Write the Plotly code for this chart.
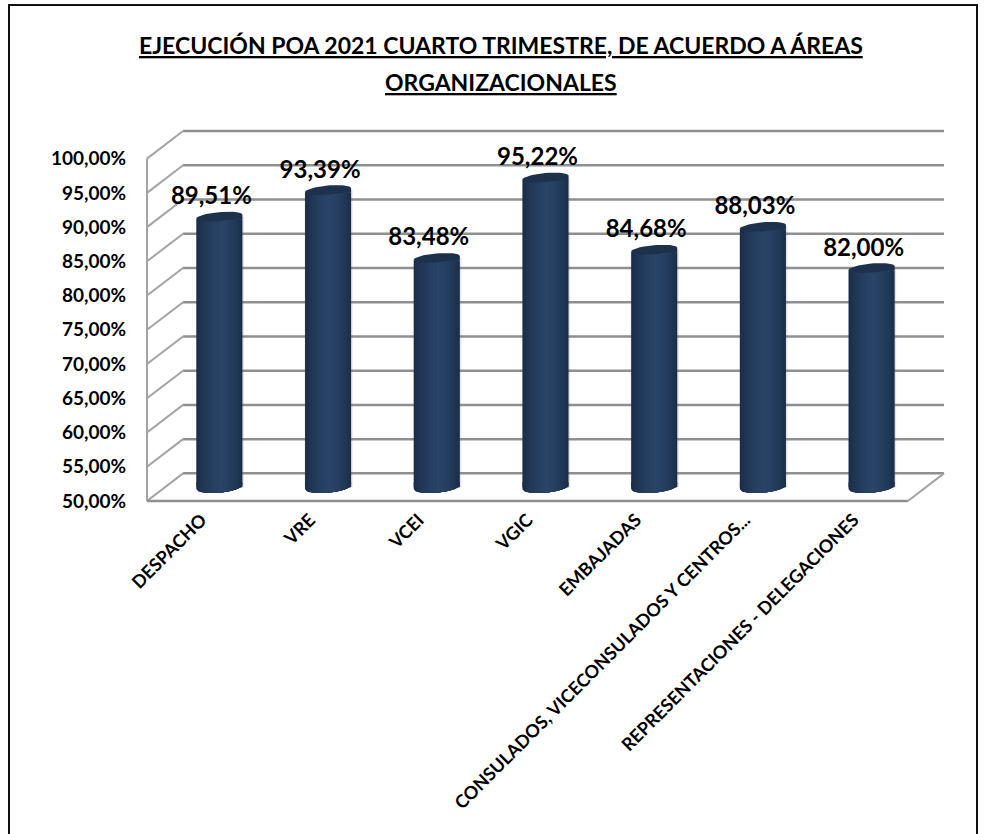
import numpy as np
import plotly.graph_objects as go

categories = [
    "DESPACHO",
    "VRE",
    "VCEI",
    "VGIC",
    "EMBAJADAS",
    "CONSULADOS, VICECONSULADOS Y CENTROS...",
    "REPRESENTACIONES - DELEGACIONES",
]
values = [89.51, 93.39, 83.48, 95.22, 84.68, 88.03, 82.00]
value_labels = ["89,51%", "93,39%", "83,48%", "95,22%", "84,68%", "88,03%", "82,00%"]
y_ticks = [50, 55, 60, 65, 70, 75, 80, 85, 90, 95, 100]
y_tick_labels = ["50,00%", "55,00%", "60,00%", "65,00%", "70,00%", "75,00%",
                 "80,00%", "85,00%", "90,00%", "95,00%", "100,00%"]
title_lines = ["EJECUCIÓN POA 2021 CUARTO TRIMESTRE, DE ACUERDO A ÁREAS", "ORGANIZACIONALES"]

FONT = "Lato"
WIDTH, HEIGHT = 987, 834

# pixel geometry of the fake 3d box
FRONT_LEFT, FRONT_RIGHT = 147, 907
FRONT_BOTTOM, FRONT_TOP = 501, 160
BACK_RIGHT, BACK_TOP = 944, 131
PAD = 4

PX_X = (FRONT_RIGHT - FRONT_LEFT) / len(categories)
PX_Y = (FRONT_BOTTOM - FRONT_TOP) / (y_ticks[-1] - y_ticks[0])

# depth of the box, in axis units
DEPTH_X = 36 / PX_X
DEPTH_Y = 27.5 / PX_Y
x_start = -0.5

margin = dict(
    l=FRONT_LEFT - PAD,
    r=WIDTH - BACK_RIGHT - PAD,
    t=BACK_TOP - PAD,
    b=HEIGHT - FRONT_BOTTOM - PAD,
)


def paper_x(px):
    return (px - margin["l"]) / (WIDTH - margin["l"] - margin["r"])


def paper_y(px):
    return 1 - (px - margin["t"]) / (HEIGHT - margin["t"] - margin["b"])


# cylinder look
BAR_PX = 46
TILT = np.radians(5)
TOP_B = 4.5
BASE_B = 5.5
BODY_CUT = 2.5
EDGE = np.array([26, 44, 70])
MID = np.array([42, 69, 105])
LAYERS = 9

centers = np.arange(len(categories)) + DEPTH_X / 2
base_y = y_ticks[0] + DEPTH_Y / 2
tops = np.array(values) + DEPTH_Y / 2

fig = go.Figure()

# soft shadow round the cylinders
fig.add_trace(
    go.Bar(
        x=centers + 0.5 / PX_X,
        y=np.array(values) - y_ticks[0],
        base=base_y,
        width=(BAR_PX + 2) / PX_X,
        marker=dict(color="rgba(120,120,120,0.2)", line_width=0),
        hoverinfo="skip",
    )
)

for i in range(LAYERS):
    frac = i / (LAYERS - 1)
    half = min(BAR_PX / 2 * (1 - frac) ** 0.8 + 1, BAR_PX / 2)
    shift = 1.5 * frac
    color = EDGE + (MID - EDGE) * frac ** 0.7
    color = "rgb(%d,%d,%d)" % tuple(color)

    fig.add_trace(
        go.Bar(
            x=centers + shift / PX_X,
            y=np.array(values) - y_ticks[0] - BODY_CUT / PX_Y,
            base=base_y,
            width=2 * half / PX_X,
            marker=dict(color=color, line_width=0),
            hoverinfo="skip",
        )
    )

    # rounded bottom and the strip up to the tilted top, same shade as the layer
    xs, ys = [], []
    for c, top in zip(centers, tops):
        u = np.linspace(-half, half, 25) + shift
        arc = -BASE_B * np.sqrt(np.clip(1 - (u / (BAR_PX / 2)) ** 2, 0, 1)) + u * np.tan(TILT)
        xs += list(c + u / PX_X) + [c + u[-1] / PX_X, c + u[0] / PX_X, None]
        ys += list(base_y + arc / PX_Y) + [base_y + 5 / PX_Y, base_y + 5 / PX_Y, None]
        xs += [c + u[0] / PX_X, c + u[-1] / PX_X, c + u[-1] / PX_X, c + u[0] / PX_X, None]
        ys += [top - BODY_CUT / PX_Y, top - BODY_CUT / PX_Y,
               top + u[-1] * np.tan(TILT) / PX_Y, top + u[0] * np.tan(TILT) / PX_Y, None]
    fig.add_trace(
        go.Scatter(
            x=xs, y=ys, mode="lines", fill="toself", fillcolor=color,
            line=dict(width=0), hoverinfo="skip",
        )
    )

# dark top ellipses
t = np.linspace(0, 2 * np.pi, 49)
for c, top in zip(centers, tops):
    u = BAR_PX / 2 * np.cos(t)
    v = TOP_B * np.sin(t)
    fig.add_trace(
        go.Scatter(
            x=c + (u * np.cos(TILT) - v * np.sin(TILT)) / PX_X,
            y=top + (u * np.sin(TILT) + v * np.cos(TILT)) / PX_Y,
            mode="lines", fill="toself", fillcolor="rgb(29,49,77)",
            line=dict(width=0), hoverinfo="skip",
        )
    )

# value labels
fig.add_trace(
    go.Scatter(
        x=centers - 8 / PX_X,
        y=tops + 18.5 / PX_Y,
        mode="text",
        text=value_labels,
        textposition="middle center",
        textfont=dict(family=FONT, size=24, color="black", weight="bold"),
        hoverinfo="skip",
        cliponaxis=False,
    )
)

# walls and floor
GRID = dict(color="#8f8f8f", width=2.5)
WALL = dict(color="#a3a3a3", width=2)
x_front_end = x_start + len(categories)
for tick in y_ticks:
    fig.add_shape(type="line", x0=x_start + DEPTH_X, x1=x_front_end + DEPTH_X,
                  y0=tick + DEPTH_Y, y1=tick + DEPTH_Y, line=GRID, layer="below")
    fig.add_shape(type="line", x0=x_start, x1=x_start + DEPTH_X,
                  y0=tick, y1=tick + DEPTH_Y, line=WALL, layer="below")
fig.add_shape(type="line", x0=x_start, x1=x_start, y0=y_ticks[0], y1=y_ticks[-1],
              line=WALL, layer="below")
fig.add_shape(type="line", x0=x_start, x1=x_front_end, y0=y_ticks[0], y1=y_ticks[0],
              line=GRID, layer="below")
fig.add_shape(type="line", x0=x_front_end, x1=x_front_end + DEPTH_X, y0=y_ticks[0],
              y1=y_ticks[0] + DEPTH_Y, line=WALL, layer="below")

# black frame, its bottom runs off the picture
fig.add_shape(type="rect", xref="paper", yref="paper",
              x0=paper_x(9), x1=paper_x(977), y0=paper_y(HEIGHT + 10), y1=paper_y(5),
              line=dict(color="#111111", width=2), fillcolor="rgba(0,0,0,0)")

for text, y_px in zip(title_lines, [45, 82]):
    fig.add_annotation(
        xref="paper", yref="paper", x=paper_x(501), y=paper_y(y_px),
        text="<u>%s</u>" % text, showarrow=False, xanchor="center", yanchor="middle",
        font=dict(family=FONT, size=23, color="black", weight="bold"),
    )

fig.update_layout(
    width=WIDTH,
    height=HEIGHT,
    margin=dict(autoexpand=False, **margin),
    barmode="overlay",
    showlegend=False,
    paper_bgcolor="white",
    plot_bgcolor="white",
    font=dict(family=FONT, color="black"),
)
fig.update_xaxes(
    range=[x_start - PAD / PX_X, x_front_end + DEPTH_X + PAD / PX_X],
    tickvals=list(range(len(categories))),
    ticktext=categories,
    tickangle=-45,
    tickfont=dict(family=FONT, size=18, color="black", weight="bold"),
    showgrid=False,
    zeroline=False,
    showline=False,
    ticks="",
)
fig.update_yaxes(
    range=[y_ticks[0] - PAD / PX_Y, y_ticks[-1] + DEPTH_Y + PAD / PX_Y],
    tickvals=y_ticks,
    ticktext=y_tick_labels,
    tickfont=dict(family=FONT, size=19, color="black", weight="bold"),
    ticklabelstandoff=16,
    showgrid=False,
    zeroline=False,
    showline=False,
    ticks="",
)

fig.write_html("out.html", config=dict(displayModeBar=False),
               post_script="document.body.style.margin='0';")
